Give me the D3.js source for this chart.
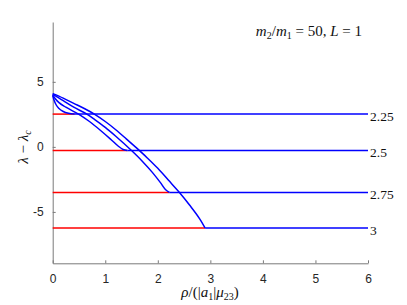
<!DOCTYPE html>
<html lang="en">
<head>
<meta charset="UTF-8">
<title>lambda vs rho</title>
<style>
  body { margin: 0; background: #fff; }
</style>
</head>
<body>
<svg id="chart" width="407" height="305"></svg>
<script src="https://d3js.org/d3.v7.min.js"></script>
<script>
// labels of the four series (shown at the right)
var levels = ["2.25", "2.5", "2.75", "3"];
// plateau value reached by each series
var plateau = [2.52, -0.28, -3.5, -6.23];
// x where each curve joins its plateau
var joinX = [0.42, 1.42, 2.22, 2.9];

// falling branch of each series
var curveX = [
  [0, 0.03, 0.07, 0.12, 0.2, 0.3, 0.42],
  [0, 0.05, 0.12, 0.25, 0.5, 0.7, 0.9, 1.1, 1.25, 1.34, 1.42],
  [0, 0.1, 0.2, 0.4, 0.65, 0.8, 1.0, 1.2, 1.5, 1.7, 1.9, 2.05, 2.15, 2.22],
  [0, 0.2, 0.4, 0.6, 0.8, 1.0, 1.2, 1.4, 1.6, 1.8, 2.0, 2.2, 2.4, 2.6, 2.8, 2.9]
];
var curveY = [
  [3.95, 3.55, 3.2, 2.95, 2.72, 2.58, 2.52],
  [4.0, 3.7, 3.4, 3.05, 2.5, 1.95, 1.3, 0.6, 0.05, -0.2, -0.28],
  [4.05, 3.8, 3.55, 3.05, 2.52, 2.1, 1.5, 0.82, -0.28, -1.08, -1.98, -2.75, -3.3, -3.5],
  [4.1, 3.75, 3.35, 2.95, 2.5, 1.95, 1.32, 0.62, -0.1, -0.85, -1.65, -2.55, -3.45, -4.45, -5.55, -6.23]
];

var xTicks = [0, 1, 2, 3, 4, 5, 6];
var yTicks = [-5, 0, 5];

var sansFont = "'Liberation Sans', Arial, Helvetica, sans-serif";
var serifFont = "'Liberation Serif', 'Times New Roman', 'DejaVu Serif', serif";

var svg = d3.select("#chart");

var x = d3.scaleLinear().domain([0, 6]).range([52.7, 368]);
var y = d3.scaleLinear().domain([-8.95, 9.6]).range([263.3, 22]);

// axes (MATLAB style, ticks inside)
svg.append("g")
    .attr("transform", "translate(0," + y(-8.95) + ")")
    .call(d3.axisBottom(x).tickValues(xTicks).tickSize(-3).tickPadding(10).tickSizeOuter(0)
        .tickFormat(d3.format("d")))
    .call(function(g) {
        g.select(".domain").attr("stroke", "#7a7a7a");
        g.selectAll(".tick line").attr("stroke", "#7a7a7a");
        g.selectAll(".tick text").attr("dy", "0.85em")
            .attr("font-family", sansFont).attr("font-size", 12).attr("fill", "#262626");
    });

svg.append("g")
    .attr("transform", "translate(" + x(0) + ",0)")
    .call(d3.axisLeft(y).tickValues(yTicks).tickSize(-3).tickPadding(9).tickSizeOuter(0)
        .tickFormat(function(d) { return d < 0 ? "-" + Math.abs(d) : d; }))
    .call(function(g) {
        g.select(".domain").attr("stroke", "#7a7a7a");
        g.selectAll(".tick line").attr("stroke", "#7a7a7a");
        g.selectAll(".tick text")
            .attr("font-family", sansFont).attr("font-size", 12).attr("fill", "#262626");
    });

var line = d3.line()
    .curve(d3.curveMonotoneX)
    .x(function(d) { return x(d[0]); })
    .y(function(d) { return y(d[1]); });

levels.forEach(function(lab, i) {
    // red part of the plateau, left of the join
    svg.append("path")
        .attr("d", d3.line()([[x(0), y(plateau[i])], [x(joinX[i]), y(plateau[i])]]))
        .attr("stroke", "#ff0000").attr("stroke-width", 1.5).attr("fill", "none");

    // blue part of the plateau
    svg.append("path")
        .attr("d", d3.line()([[x(joinX[i]), y(plateau[i])], [x(6), y(plateau[i])]]))
        .attr("stroke", "#0000ff").attr("stroke-width", 1.5).attr("fill", "none");

    // falling branch
    var pts = curveX[i].map(function(v, k) { return [v, curveY[i][k]]; });
    svg.append("path")
        .attr("d", line(pts))
        .attr("stroke", "#0000ff").attr("stroke-width", 1.5).attr("fill", "none");

    svg.append("text")
        .attr("font-family", serifFont).attr("font-size", 13.5).attr("fill", "#111")
        .attr("x", x(6) + 2)
        .attr("y", y(plateau[i]) + 2)
        .attr("dy", "0.35em")
        .text(lab);
});

function serifText() {
    return svg.append("text").attr("font-family", serifFont).attr("font-size", 15).attr("fill", "#111");
}

// title
var t = serifText().attr("x", 362).attr("y", 36).attr("text-anchor", "end");
t.append("tspan").attr("font-style", "italic").text("m");
t.append("tspan").attr("font-size", "10px").attr("dy", 3).text("2");
t.append("tspan").attr("dy", -3).text("/");
t.append("tspan").attr("font-style", "italic").text("m");
t.append("tspan").attr("font-size", "10px").attr("dy", 3).text("1");
t.append("tspan").attr("dy", -3).text(" = 50, ");
t.append("tspan").attr("font-style", "italic").text("L");
t.append("tspan").text(" = 1");

// x label
var xl = serifText().attr("x", 210).attr("y", 297).attr("text-anchor", "middle");
xl.append("tspan").attr("font-style", "italic").text("ρ");
xl.append("tspan").text("/(|");
xl.append("tspan").attr("font-style", "italic").text("a");
xl.append("tspan").attr("font-size", "10px").attr("dy", 3).text("1");
xl.append("tspan").attr("dy", -3).text("|");
xl.append("tspan").attr("font-style", "italic").text("μ");
xl.append("tspan").attr("font-size", "10px").attr("dy", 3).text("23");
xl.append("tspan").attr("dy", -3).text(")");

// y label
var yl = serifText().attr("transform", "translate(28,147) rotate(-90)").attr("text-anchor", "middle");
yl.append("tspan").attr("font-style", "italic").text("λ");
yl.append("tspan").text(" − ");
yl.append("tspan").attr("font-style", "italic").text("λ");
yl.append("tspan").attr("font-size", "10px").attr("font-style", "italic").attr("dy", 3).text("c");
</script>
</body>
</html>
